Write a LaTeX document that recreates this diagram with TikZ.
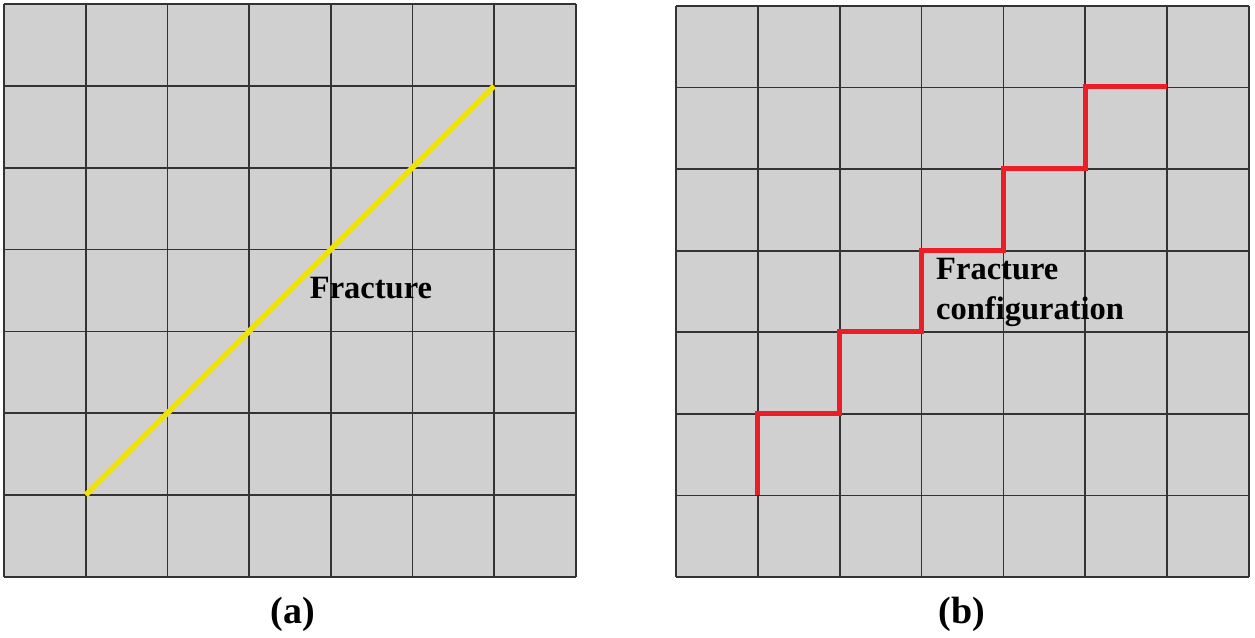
\documentclass[tikz,border=0pt]{standalone}
\usepackage{fontspec}
\setmainfont{Liberation Serif}
\begin{document}
\begin{tikzpicture}[x=1pt,y=-1pt,
  gridline/.style={draw=black!80,line width=1.8pt},
  yellowfrac/.style={draw=fracyellow,line width=5.5pt},
  redfrac/.style={draw=fracred,line width=5pt,line join=miter},
  lbl/.style={font=\bfseries\fontsize{32.5}{40}\selectfont,inner sep=0pt},
  captext/.style={font=\bfseries\fontsize{38}{44}\selectfont,inner sep=0pt}]
\definecolor{cellgray}{RGB}{208,208,208}
\definecolor{fracyellow}{RGB}{240,225,10}
\definecolor{fracred}{RGB}{235,30,40}
\useasboundingbox (0,0) rectangle (1255,637);
% left grid
\fill[cellgray] (4,4) rectangle (576,577);
\foreach \i in {0,...,7}{
  \draw[gridline] ({4+\i*81.71},4) -- ({4+\i*81.71},577);
  \draw[gridline] (4,{4+\i*81.86}) -- (576,{4+\i*81.86});
}
\coordinate (ya) at (85.7,495);
\coordinate (yb) at (494,85.9);
\draw[yellowfrac] (ya) -- (yb);
\node[lbl,anchor=base] (f1) at (371,298) {Fracture};
% right grid
\fill[cellgray] (676,6) rectangle (1249,577);
\foreach \i in {0,...,7}{
  \draw[gridline] ({676+\i*81.86},6) -- ({676+\i*81.86},577);
  \draw[gridline] (676,{6+\i*81.57}) -- (1249,{6+\i*81.57});
}
\coordinate (r0) at (757.9,495);
\draw[redfrac] (r0) |- (839.7,413.1) |- (921.6,331.6) |- (1003.4,250.0) |- (1085.3,168.4) |- (1167.1,86.9);
\node[lbl,anchor=base west] (f2) at (936,279) {Fracture};
\node[lbl,anchor=base west] (f3) at (936,319) {configuration};
% captions
\node[captext,anchor=base] (ca) at (293,623) {(a)};
\node[captext,anchor=base] (cb) at (962,623) {(b)};
\end{tikzpicture}
\end{document}
